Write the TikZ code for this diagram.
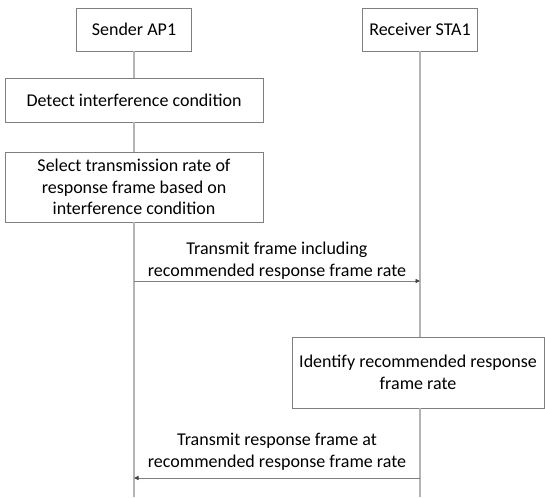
\documentclass[tikz,border=0pt]{standalone}
\usepackage{fontspec}
\setmainfont{Carlito}
\usepackage{tikz}
\usetikzlibrary{arrows.meta,positioning,calc}
\definecolor{boxgray}{HTML}{7F7F7F}
\definecolor{linegray}{HTML}{B4B4B4}
\definecolor{msggray}{HTML}{808080}
\definecolor{tipgray}{HTML}{404040}
\tikzset{
  partybox/.style={draw=boxgray,fill=white,line width=0.9pt,align=center,
    minimum width=115pt,minimum height=43pt,inner sep=0pt,
    font=\fontsize{18}{21.5}\selectfont},
  stepbox/.style={draw=boxgray,fill=white,line width=0.9pt,align=center,
    inner sep=0pt,font=\fontsize{18}{21.5}\selectfont},
  lifeline/.style={draw=linegray,line width=1.6pt},
  msgarrow/.style={draw=msggray,line width=0.9pt,
    -{Triangle[length=4.5pt,width=4pt,color=tipgray]}},
  msglabel/.style={align=center,inner sep=0pt,
    font=\fontsize{18}{22}\selectfont}
}
\begin{document}
\begin{tikzpicture}[x=1pt,y=-1pt]
  \useasboundingbox (0,0) rectangle (545,497);
  % parties
  \node[partybox] (sender) at (134,29.5) {Sender AP1};
  \node[partybox] (receiver) at (420,29.5) {Receiver STA1};
  \coordinate (sendend) at (134,497);
  \coordinate (recvend) at (420,497);
  % sender steps
  \node[stepbox,minimum width=258pt,minimum height=44pt] (detect) at (134,100)
    {Detect interference condition};
  \node[stepbox,minimum width=258pt,minimum height=70pt] (select) at (134,187)
    {Select transmission rate of\\response frame based on\\interference condition};
  % receiver step
  \node[stepbox,minimum width=252pt,minimum height=71pt] (identify) at (418,372.5)
    {Identify recommended response\\frame rate};
  % lifelines
  \foreach \a/\b in {sender/detect,detect/select,select/sendend}
    \draw[lifeline] (\a) -- (\b);
  \draw[lifeline] (receiver) -- (receiver |- identify.north);
  \draw[lifeline] (receiver |- identify.south) -- (recvend);
  % messages
  \coordinate (txs) at (sender |- 0,281);
  \coordinate (txr) at (receiver |- 0,281);
  \coordinate (rsr) at (receiver |- 0,478);
  \coordinate (rss) at (sender |- 0,478);
  \draw[msgarrow] (txs) -- node[msglabel,above=1.5pt] (txlabel)
    {Transmit frame including\\recommended response frame rate} (txr);
  \draw[msgarrow] (rsr) -- node[msglabel,above=7pt] (rslabel)
    {Transmit response frame at\\recommended response frame rate} (rss);
\end{tikzpicture}
\end{document}
